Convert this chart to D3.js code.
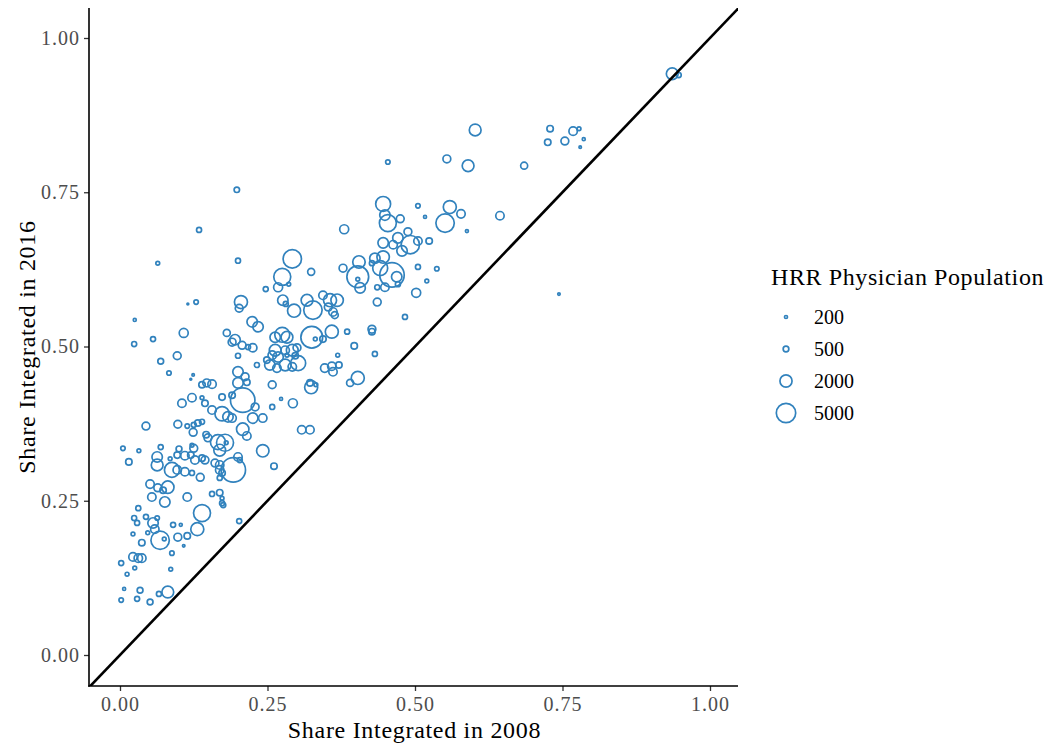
<!DOCTYPE html>
<html><head><meta charset="utf-8">
<script src="https://cdn.jsdelivr.net/npm/d3@7"></script>
<style>body{margin:0;background:#fff} text{font-family:"Liberation Serif","Times New Roman",serif}</style>
</head><body><svg id="chart" width="1049" height="746"></svg>
<script>
const share2008 = [
0.031,0.024,0.029,0.044,0.063,0.056,0.059,0.022,0.047,0.037,
0.068,0.075,0.090,0.103,0.098,0.114,0.131,0.139,0.108,0.088,
0.022,0.031,0.037,0.002,0.025,0.012,0.086,0.007,0.034,0.002,
0.029,0.051,0.066,0.081,0.202,0.054,0.076,0.114,0.156,0.173,
0.051,0.064,0.073,0.081,0.083,0.124,0.120,0.139,0.147,0.156,
0.105,0.122,0.139,0.144,0.156,0.173,0.044,0.098,0.114,0.125,
0.132,0.139,0.124,0.005,0.032,0.069,0.100,0.122,0.125,0.146,
0.149,0.166,0.169,0.015,0.063,0.063,0.085,0.097,0.110,0.120,
0.127,0.139,0.144,0.161,0.169,0.088,0.097,0.110,0.122,0.136,
0.064,0.115,0.129,0.025,0.108,0.024,0.056,0.069,0.097,0.181,
0.200,0.215,0.258,0.324,0.332,0.173,0.190,0.208,0.229,0.258,
0.273,0.293,0.183,0.190,0.225,0.242,0.208,0.215,0.308,0.322,
0.178,0.180,0.242,0.261,0.200,0.203,0.169,0.192,0.173,0.169,
0.169,0.173,0.175,0.200,0.292,0.324,0.275,0.268,0.286,0.247,
0.205,0.202,0.276,0.281,0.295,0.317,0.327,0.344,0.356,0.353,
0.361,0.224,0.234,0.195,0.190,0.207,0.217,0.225,0.200,0.275,
0.263,0.283,0.325,0.331,0.359,0.344,0.369,0.263,0.258,0.268,
0.280,0.292,0.300,0.283,0.297,0.254,0.266,0.280,0.292,0.302,
0.249,0.232,0.200,0.212,0.347,0.359,0.322,0.427,0.385,0.397,
0.432,0.371,0.361,0.403,0.390,0.446,0.505,0.517,0.559,0.578,
0.551,0.588,0.449,0.454,0.475,0.380,0.488,0.446,0.471,0.463,
0.492,0.505,0.524,0.478,0.432,0.446,0.405,0.378,0.427,0.441,
0.461,0.469,0.471,0.403,0.403,0.407,0.436,0.449,0.505,0.537,
0.520,0.502,0.436,0.368,0.364,0.483,0.427,0.936,0.947,0.602,
0.729,0.768,0.778,0.725,0.754,0.786,0.780,0.590,0.685,0.644,
0.744,0.454,0.554,0.198,0.134];
const share2016 = [
0.238,0.222,0.214,0.224,0.222,0.214,0.204,0.196,0.198,0.182,
0.186,0.188,0.211,0.211,0.191,0.193,0.204,0.230,0.177,0.165,
0.159,0.157,0.157,0.149,0.141,0.131,0.139,0.107,0.105,0.089,
0.091,0.086,0.099,0.102,0.217,0.256,0.248,0.256,0.261,0.246,
0.277,0.271,0.267,0.272,0.457,0.454,0.447,0.438,0.441,0.439,
0.408,0.417,0.417,0.408,0.397,0.391,0.371,0.374,0.371,0.373,
0.376,0.378,0.361,0.335,0.331,0.337,0.334,0.340,0.335,0.357,
0.352,0.345,0.332,0.313,0.321,0.308,0.318,0.324,0.323,0.324,
0.316,0.319,0.316,0.311,0.300,0.300,0.300,0.297,0.295,0.288,
0.635,0.569,0.572,0.543,0.522,0.504,0.512,0.476,0.485,0.522,
0.441,0.442,0.438,0.434,0.438,0.418,0.421,0.413,0.402,0.402,
0.415,0.408,0.386,0.384,0.384,0.384,0.366,0.355,0.365,0.365,
0.344,0.344,0.331,0.306,0.321,0.316,0.308,0.300,0.295,0.287,
0.263,0.254,0.243,0.639,0.642,0.621,0.613,0.596,0.601,0.593,
0.572,0.562,0.575,0.569,0.558,0.575,0.559,0.583,0.575,0.564,
0.556,0.540,0.532,0.511,0.507,0.502,0.499,0.498,0.485,0.519,
0.515,0.515,0.515,0.512,0.524,0.512,0.486,0.494,0.486,0.483,
0.494,0.494,0.498,0.486,0.485,0.470,0.465,0.470,0.467,0.473,
0.478,0.470,0.459,0.451,0.465,0.468,0.441,0.524,0.524,0.501,
0.488,0.470,0.459,0.449,0.441,0.731,0.728,0.710,0.726,0.715,
0.700,0.687,0.713,0.700,0.707,0.690,0.686,0.668,0.676,0.665,
0.665,0.671,0.671,0.655,0.643,0.645,0.637,0.627,0.635,0.627,
0.616,0.613,0.601,0.613,0.609,0.595,0.596,0.596,0.629,0.626,
0.606,0.587,0.572,0.575,0.551,0.548,0.528,0.942,0.940,0.851,
0.853,0.849,0.853,0.831,0.833,0.836,0.823,0.793,0.793,0.712,
0.585,0.799,0.804,0.754,0.689];
const physicians = [
410,410,410,410,340,1500,1000,270,270,620,
4500,270,410,200,880,620,2300,3850,160,340,
1000,1000,1000,410,270,270,270,200,520,340,
410,520,410,1900,410,1000,1500,1000,410,410,
1000,880,620,2100,340,160,125,620,880,1000,
1000,1000,270,620,1000,2750,880,880,340,410,
620,410,880,340,270,410,520,270,880,620,
880,3000,1900,620,1500,1900,270,620,1000,620,
1000,620,880,880,1000,3000,1000,1000,410,880,
270,125,340,200,1140,410,410,520,880,720,
1500,620,880,2300,270,620,620,7900,880,410,
200,1140,1500,1000,1500,1000,2100,1000,1000,1000,
3850,270,2100,620,1000,410,1000,7900,620,410,
620,270,410,410,4500,720,3850,1140,270,410,
2300,880,1500,410,2300,1900,4500,1000,2300,880,
1000,1500,1500,1500,880,880,410,1000,410,3000,
1500,1900,6300,270,2300,620,270,1900,1000,1500,
1000,1900,880,270,620,1500,1000,1900,1000,3000,
620,410,1500,880,1000,1000,620,620,410,620,
410,620,1000,2300,720,3000,340,200,2300,1000,
4500,200,1500,3850,880,1140,880,1500,1500,1000,
4500,1000,620,1500,1500,2100,2100,880,410,3000,
7900,1500,410,6300,270,1500,410,1000,410,340,
270,1140,880,2100,720,410,880,1900,410,1900,
620,1000,270,620,880,200,160,1900,720,1000,
160,340,880,465,410];
const xTicks = [0, 0.25, 0.5, 0.75, 1];
const yTicks = [0, 0.25, 0.5, 0.75, 1];
const legendBreaks = [200, 500, 2000, 5000];

const svg = d3.select("#chart");
const L = 89, R = 738, T = 8, B = 686;
const x = d3.scaleLinear().domain([0, 1]).range([120, 710]);
const y = d3.scaleLinear().domain([0, 1]).range([655, 38]);
const area = d3.scaleLinear().domain([200, 5000]).range([2.3, 94]);
const rad = v => Math.sqrt(Math.max(area(v), 0.6));
const color = "#3182bd";

svg.append("defs").append("clipPath").attr("id", "clip")
  .append("rect").attr("x", L).attr("y", T).attr("width", R - L).attr("height", B - T);

const data = share2008.map((d, i) => ({x: d, y: share2016[i], p: physicians[i]}));

svg.append("g").attr("clip-path", "url(#clip)").selectAll("circle").data(data).join("circle")
  .attr("cx", d => x(d.x)).attr("cy", d => y(d.y)).attr("r", d => rad(d.p))
  .attr("fill", "none").attr("stroke", color).attr("stroke-width", 1.7);

// 45-degree reference line
const lo = x.invert(L - 2), hi = x.invert(R + 2);
svg.append("line").attr("clip-path", "url(#clip)")
  .attr("x1", x(lo)).attr("y1", y(lo)).attr("x2", x(hi)).attr("y2", y(hi))
  .attr("stroke", "#000").attr("stroke-width", 2.6);

// axes
const yAxis = svg.append("g").attr("transform", `translate(${L},0)`)
  .call(d3.axisLeft(y).tickValues(yTicks).tickFormat(d3.format(".2f")).tickSize(5).tickPadding(4));
const xAxis = svg.append("g").attr("transform", `translate(0,${B})`)
  .call(d3.axisBottom(x).tickValues(xTicks).tickFormat(d3.format(".2f")).tickSize(5).tickPadding(5.5));
[xAxis, yAxis].forEach(g => {
  g.select(".domain").remove();
  g.selectAll(".tick line").attr("stroke", "#333").attr("stroke-width", 1.3);
  g.selectAll(".tick text").attr("fill", "#4d4d4d").style("font-size", "20px")
    .style("letter-spacing", "1px")
    .style("font-family", '"Liberation Serif", serif');
});
svg.append("line").attr("x1", L).attr("x2", L).attr("y1", T).attr("y2", B + 0.8)
  .attr("stroke", "#000").attr("stroke-width", 1.6);
svg.append("line").attr("x1", L - 0.8).attr("x2", R).attr("y1", B).attr("y2", B)
  .attr("stroke", "#000").attr("stroke-width", 1.6);

// axis titles
svg.append("text").attr("x", (L + R) / 2 + 1).attr("y", 738).attr("text-anchor", "middle")
  .style("font-size", "24px").style("letter-spacing", "0.7px").text("Share Integrated in 2008");
svg.append("text").attr("transform", `translate(35,${(T + B) / 2}) rotate(-90)`)
  .attr("text-anchor", "middle").style("font-size", "24px").style("letter-spacing", "0.7px")
  .text("Share Integrated in 2016");

// legend
const lg = svg.append("g");
lg.append("text").attr("x", 771).attr("y", 285).style("font-size", "24px")
  .style("letter-spacing", "0.6px").text("HRR Physician Population");
legendBreaks.forEach((b, i) => {
  const cy = 317 + i * 32;
  lg.append("circle").attr("cx", 786).attr("cy", cy).attr("r", rad(b))
    .attr("fill", "none").attr("stroke", color).attr("stroke-width", 1.7);
  lg.append("text").attr("x", 814).attr("y", cy + 6.5).style("font-size", "20px").text(b);
});
</script></body></html>
